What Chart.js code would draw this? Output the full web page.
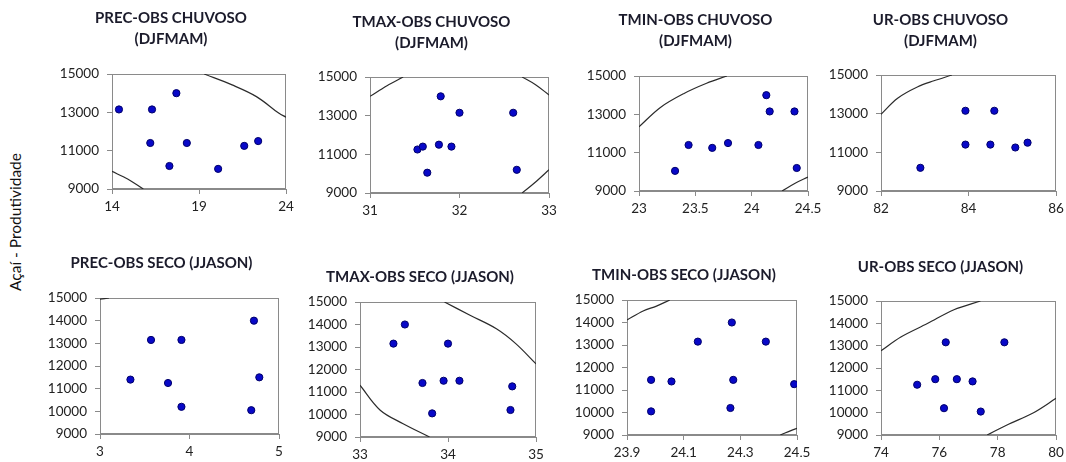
<!DOCTYPE html>
<html>
<head>
<meta charset="utf-8">
<script src="https://cdn.jsdelivr.net/npm/chart.js@4.4.1/dist/chart.umd.min.js"></script>
<style>
  html, body { margin: 0; padding: 0; background: #fff; overflow: hidden; }
  body { width: 1066px; height: 462px; position: relative; }
  canvas { position: absolute; }
  #ytitle {
    position: absolute; left: 15px; top: 222px;
    transform: translate(-50%, -50%) rotate(-90deg);
    font: 15.5px Lato, sans-serif; color: #111; white-space: nowrap;
  }
</style>
</head>
<body>
<div id="ytitle">Açaí - Produtividade</div>
<script>
// panel titles
const titles = [
  ["PREC-OBS CHUVOSO", "(DJFMAM)"],
  ["TMAX-OBS CHUVOSO", "(DJFMAM)"],
  ["TMIN-OBS CHUVOSO", "(DJFMAM)"],
  ["UR-OBS CHUVOSO", "(DJFMAM)"],
  "PREC-OBS SECO (JJASON)",
  "TMAX-OBS SECO (JJASON)",
  "TMIN-OBS SECO (JJASON)",
  "UR-OBS SECO (JJASON)",
];

// observed values (x) vs productivity (y)
const precChuvX = [14.4, 16.3, 17.7, 16.2, 18.3, 17.3, 20.1, 21.6, 22.4];
const precChuvY = [13150, 13150, 14000, 11400, 11400, 10200, 10050, 11250, 11500];
const tmaxChuvX = [31.79, 32.0, 32.6, 31.53, 31.59, 31.77, 31.91, 31.64, 32.64];
const tmaxChuvY = [14000, 13150, 13150, 11250, 11400, 11500, 11400, 10050, 10200];
const tminChuvX = [24.13, 24.16, 24.38, 23.44, 23.65, 23.79, 24.06, 23.32, 24.4];
const tminChuvY = [14000, 13150, 13150, 11400, 11250, 11500, 11400, 10050, 10200];
const urChuvX = [83.93, 84.59, 83.93, 84.5, 85.07, 85.35, 82.9];
const urChuvY = [13150, 13150, 11400, 11400, 11250, 11500, 10200];
const precSecoX = [3.34, 3.57, 3.91, 3.76, 3.91, 4.72, 4.78, 4.69];
const precSecoY = [11400, 13150, 13150, 11250, 10200, 14000, 11500, 10050];
const tmaxSecoX = [33.51, 33.38, 34.0, 33.71, 33.95, 34.13, 34.73, 33.82, 34.71];
const tmaxSecoY = [14000, 13150, 13150, 11400, 11500, 11500, 11250, 10050, 10200];
const tminSecoX = [24.27, 24.15, 24.39, 23.985, 24.057, 24.275, 24.49, 23.985, 24.265];
const tminSecoY = [14000, 13150, 13150, 11450, 11380, 11450, 11260, 10050, 10200];
const urSecoX = [76.22, 78.23, 75.24, 75.86, 76.6, 77.14, 76.16, 77.42];
const urSecoY = [13150, 13150, 11250, 11500, 11500, 11400, 10200, 10050];

// confidence ellipse pieces visible inside each plot
const precChuvCurves = [
  [[19.3, 15000], [20.9, 14430], [22.3, 13820], [23.6, 12950], [24, 12750]],
  [[14, 9920], [14.9, 9520], [15.8, 9000]],
];
const tmaxChuvCurves = [
  [[31, 14000], [31.19, 14550], [31.37, 15000]],
  [[32.7, 15000], [32.85, 14600], [33, 14070]],
  [[32.7, 9000], [32.85, 9570], [33, 10200]],
];
const tminChuvCurves = [
  [[23, 12350], [23.19, 13360], [23.4, 14090], [23.6, 14620], [23.78, 15000]],
  [[24.27, 9000], [24.39, 9420], [24.5, 9730]],
];
const urChuvCurves = [
  [[82, 12970], [82.38, 13800], [82.83, 14380], [83.21, 14700], [83.62, 15000]],
];
const precSecoCurves = [
  [[3, 14950], [3.1, 15000]],
];
const tmaxSecoCurves = [
  [[33.96, 15000], [34.25, 14410], [34.55, 13810], [34.77, 13150], [35, 12250]],
  [[33, 11300], [33.23, 10190], [33.49, 9590], [33.79, 9000]],
];
const tminSecoCurves = [
  [[23.9, 14110], [23.957, 14510], [24.004, 14730], [24.051, 15000]],
  [[24.441, 9000], [24.47, 9150], [24.5, 9300]],
];
const urSecoCurves = [
  [[74, 12770], [74.68, 13390], [75.59, 13990], [76.5, 14610], [77.41, 15000]],
  [[77.64, 9000], [78.32, 9450], [79.23, 10000], [80, 10640]],
];

// tick labels
const xTicks = [
  [14, 19, 24], [31, 32, 33], [23, 23.5, 24, 24.5], [82, 84, 86],
  [3, 4, 5], [33, 34, 35], [23.9, 24.1, 24.3, 24.5], [74, 76, 78, 80],
];
const yTicksChuvoso = [9000, 11000, 13000, 15000];
const yTicksSeco = [9000, 10000, 11000, 12000, 13000, 14000, 15000];

const panels = [
  [precChuvX, precChuvY, precChuvCurves, yTicksChuvoso],
  [tmaxChuvX, tmaxChuvY, tmaxChuvCurves, yTicksChuvoso],
  [tminChuvX, tminChuvY, tminChuvCurves, yTicksChuvoso],
  [urChuvX, urChuvY, urChuvCurves, yTicksChuvoso],
  [precSecoX, precSecoY, precSecoCurves, yTicksSeco],
  [tmaxSecoX, tmaxSecoY, tmaxSecoCurves, yTicksSeco],
  [tminSecoX, tminSecoY, tminSecoCurves, yTicksSeco],
  [urSecoX, urSecoY, urSecoCurves, yTicksSeco],
];

// page placement: plot left, top, right, bottom, title centre x, first title line y
const boxes = [
  [112, 74, 286, 189, 180, 18],
  [370, 77, 549, 193, 442, 22],
  [639, 76, 808, 191, 707, 20],
  [881, 75, 1056, 191, 950, 20],
  [100, 298, 279, 434, 171, 263],
  [360, 302, 536, 437, 430, 277],
  [627, 300, 797, 435, 697, 275],
  [881, 301, 1056, 435, 961, 267],
];

const FONT = "Lato, 'Open Sans', sans-serif";
const Y_W = 56, X_H = 22, TITLE_SIZE = 15, TITLE_LH = 1.4;
const lh = TITLE_SIZE * TITLE_LH;

const frame = {
  id: "frame",
  beforeDatasetsDraw(chart) {
    const a = chart.chartArea, ctx = chart.ctx;
    ctx.save();
    ctx.strokeStyle = "#8a8a8a";
    ctx.lineWidth = 1;
    ctx.strokeRect(Math.round(a.left) + 0.5, Math.round(a.top) + 0.5,
      Math.round(a.right - a.left) - 1, Math.round(a.bottom - a.top) - 1);
    ctx.restore();
  },
};

const fmtX = (v) => String(v).replace(".", ",");
const fmtY = (v) => String(v);

panels.forEach(([xs, ys, curves, yTicks], i) => {
  const [L, T, R, B, cx, t1] = boxes[i];
  const lines = Array.isArray(titles[i]) ? titles[i].length : 1;
  const left = L - Y_W;
  const width = Math.round(2 * (cx - left));
  const top = Math.round(t1 - lh / 2 - 2);
  const height = B - top + X_H + 2;
  const padBottomTitle = T - top - 2 - lines * lh;
  const xt = xTicks[i];

  const canvas = document.createElement("canvas");
  canvas.width = width;
  canvas.height = height;
  canvas.style.left = left + "px";
  canvas.style.top = top + "px";
  document.body.appendChild(canvas);

  const datasets = curves.map((c) => ({
    type: "line",
    data: c.map(([x, y]) => ({ x, y })),
    borderColor: "#2b2b2b",
    borderWidth: 1.2,
    pointRadius: 0,
    tension: 0.35,
    fill: false,
  }));
  datasets.push({
    type: "scatter",
    data: xs.map((x, k) => ({ x, y: ys[k] })),
    backgroundColor: "#0808c8",
    borderColor: "#00006a",
    borderWidth: 1,
    pointRadius: 3.6,
  });

  new Chart(canvas, {
    data: { datasets },
    plugins: [frame],
    options: {
      responsive: false,
      animation: false,
      devicePixelRatio: 1,
      layout: { padding: { left: 0, top: 0, bottom: 2, right: width - Y_W - (R - L) } },
      plugins: {
        legend: { display: false },
        tooltip: { enabled: false },
        title: {
          display: true,
          text: titles[i],
          color: "#1b1b2b",
          font: { family: FONT, size: TITLE_SIZE, weight: "bold", lineHeight: TITLE_LH },
          padding: { top: 2, bottom: padBottomTitle },
        },
      },
      scales: {
        x: {
          type: "linear",
          min: xt[0],
          max: xt[xt.length - 1],
          afterBuildTicks: (s) => { s.ticks = xt.map((v) => ({ value: v })); },
          afterFit: (s) => { s.height = X_H; },
          ticks: { callback: fmtX, color: "#222", font: { family: FONT, size: 13.5 }, padding: 5, maxRotation: 0, autoSkip: false },
          grid: { drawOnChartArea: false, drawTicks: true, tickLength: 5, color: "#8a8a8a" },
          border: { color: "#8a8a8a" },
        },
        y: {
          type: "linear",
          min: yTicks[0],
          max: yTicks[yTicks.length - 1],
          afterBuildTicks: (s) => { s.ticks = yTicks.map((v) => ({ value: v })); },
          afterFit: (s) => { s.width = Y_W; },
          ticks: { callback: fmtY, color: "#222", font: { family: FONT, size: 13.5 }, padding: 8, autoSkip: false },
          grid: { drawOnChartArea: false, drawTicks: true, tickLength: 5, color: "#8a8a8a" },
          border: { color: "#8a8a8a" },
        },
      },
    },
  });
});
</script>
</body>
</html>
